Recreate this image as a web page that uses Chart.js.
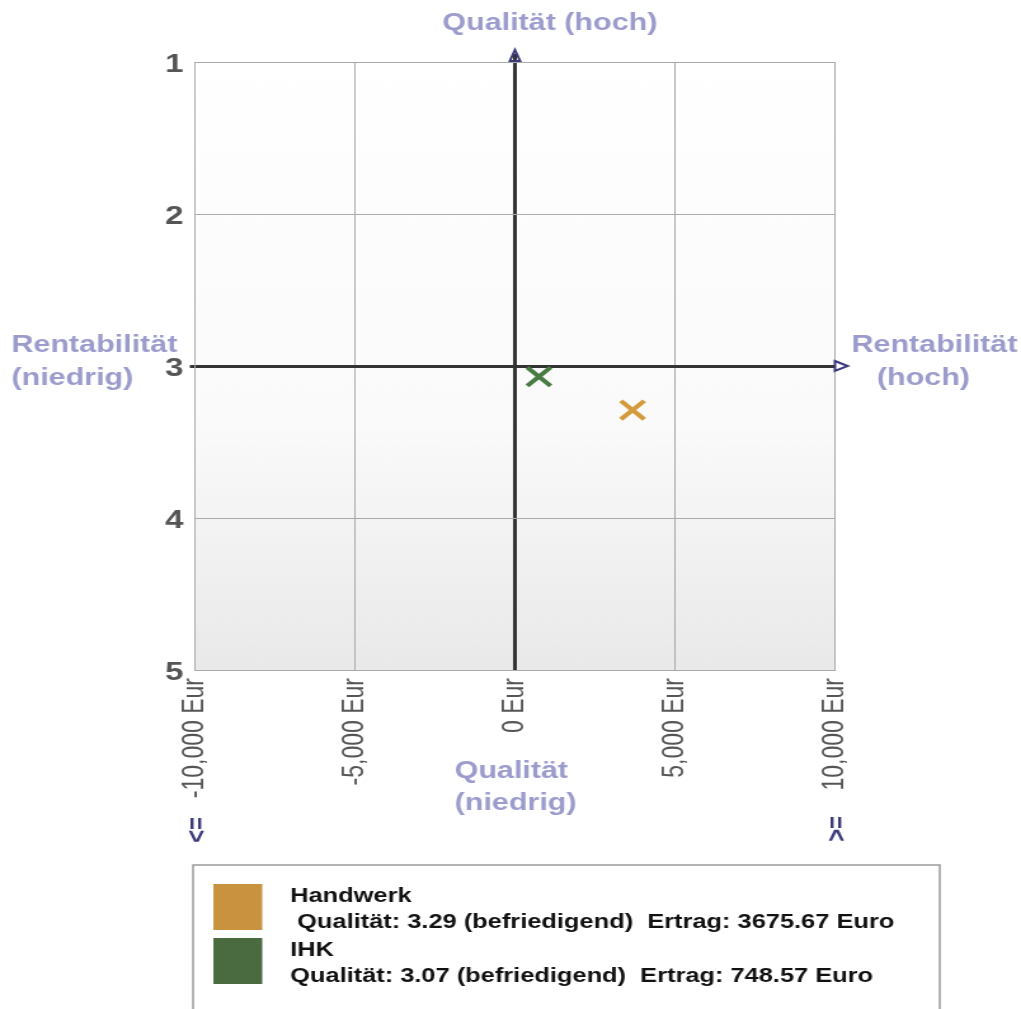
<!DOCTYPE html>
<html><head><meta charset="utf-8">
<script src="https://cdn.jsdelivr.net/npm/chart.js@4.4.1/dist/chart.umd.min.js"></script>
<style>
html,body{margin:0;padding:0;background:#fff;overflow:hidden;}
#wrap{position:absolute;left:0;top:0;width:804px;height:1009px;transform:scaleX(1.2699);transform-origin:0 0;}
canvas{display:block;}
</style></head><body>
<div id="wrap"><canvas id="c" width="804" height="1009" style="width:804px;height:1009px"></canvas></div>
<script>
const categories = ['Handwerk', 'IHK'];
const qualitaet = [3.29, 3.07];
const ertrag = [3675.67, 748.57];
const bewertung = ['befriedigend', 'befriedigend'];
const legendPrefix = [' ', ''];
const seriesColors = ['#d49a3c', '#4b7b45'];
const legendColors = ['#c8923f', '#4a6b40'];
const xTickValues = [-10000, -5000, 0, 5000, 10000];
const xTickLabels = ['-10,000 Eur', '-5,000 Eur', '0 Eur', '5,000 Eur', '10,000 Eur'];
const yTickValues = [1, 2, 3, 4, 5];
const yTickLabels = ['1', '2', '3', '4', '5'];
const xAxisTitle = ['Qualität', '(niedrig)'];
const topTitle = 'Qualität (hoch)';
const leftTitle = ['Rentabilität', '(niedrig)'];
const rightTitle = ['Rentabilität', '(hoch)'];
const xMinMark = '<=';
const xMaxMark = '>=';

const TITLE_COLOR = '#9b9bcc';
const NAVY = '#3a3a7a';
const FONT = '"Liberation Sans", Arial, Helvetica, sans-serif';

const bgPlugin = {
  id: 'bg',
  beforeDraw(chart) {
    const {ctx, chartArea: a} = chart;
    const g = ctx.createLinearGradient(0, a.top, 0, a.bottom);
    g.addColorStop(0, '#ffffff');
    g.addColorStop(0.6, '#fafafa');
    g.addColorStop(1, '#e9e9e9');
    ctx.save();
    ctx.fillStyle = g;
    ctx.fillRect(a.left, a.top, a.right - a.left, a.bottom - a.top);
    ctx.restore();
  }
};

const decoPlugin = {
  id: 'deco',
  afterDraw(chart) {
    const {ctx, chartArea: a, scales} = chart;
    const x0 = scales.x.getPixelForValue(0);
    const y3 = scales.y.getPixelForValue(3);
    const xMin = scales.x.getPixelForValue(-10000);
    const xMax = scales.x.getPixelForValue(10000);
    ctx.save();
    // vertical axis extension + arrow
    ctx.strokeStyle = '#333333';
    ctx.lineWidth = 3;
    ctx.beginPath(); ctx.moveTo(x0, a.top); ctx.lineTo(x0, a.top - 8); ctx.stroke();
    ctx.strokeStyle = NAVY;
    ctx.lineWidth = 2;
    ctx.lineJoin = 'miter';
    ctx.beginPath();
    ctx.moveTo(x0 - 4, a.top - 1); ctx.lineTo(x0, a.top - 12); ctx.lineTo(x0 + 4, a.top - 1); ctx.closePath();
    ctx.stroke();
    // horizontal arrow
    ctx.beginPath();
    ctx.moveTo(a.right, y3 - 5); ctx.lineTo(a.right + 10, y3); ctx.lineTo(a.right, y3 + 5); ctx.closePath();
    ctx.stroke();

    // titles
    ctx.fillStyle = TITLE_COLOR;
    ctx.font = 'bold 24px ' + FONT;
    ctx.textBaseline = 'middle';
    ctx.textAlign = 'center';
    ctx.fillText(topTitle, 433, 23);
    ctx.textAlign = 'left';
    ctx.fillText(leftTitle[0], 9, 345);
    ctx.fillText(leftTitle[1], 9, 378);
    ctx.fillText(rightTitle[0], a.right + 13, 345);
    ctx.fillText(rightTitle[1], a.right + 33, 378);
    ctx.fillText(xAxisTitle[0], 358, 771);
    ctx.fillText(xAxisTitle[1], 358, 803);

    // <= and >= marks
    ctx.fillStyle = NAVY;
    ctx.font = 'bold 22px ' + FONT;
    ctx.textAlign = 'center';
    [[xMin + 2, 830, xMinMark], [xMax + 2, 829, xMaxMark]].forEach(([x, y, t]) => {
      ctx.save();
      ctx.translate(x, y);
      ctx.rotate(-Math.PI / 2);
      ctx.fillText(t, 0, 0);
      ctx.restore();
    });

    // legend box
    ctx.strokeStyle = '#9a9a9a';
    ctx.lineWidth = 1.5;
    ctx.strokeRect(152, 865, 588, 160);
    ctx.font = 'bold 20px ' + FONT;
    ctx.textAlign = 'left';
    categories.forEach((name, i) => {
      const top = 884 + i * 54;
      ctx.fillStyle = legendColors[i];
      ctx.fillRect(168, top, 38.5, 46);
      ctx.fillStyle = '#111111';
      ctx.fillText(name, 228.5, top + 12);
      const line = legendPrefix[i] + 'Qualität: ' + qualitaet[i].toFixed(2) + ' (' + bewertung[i] + ')  Ertrag: ' + ertrag[i].toFixed(2) + ' Euro';
      ctx.fillText(line, 228.5, top + 38);
    });
    ctx.restore();
  }
};

new Chart(document.getElementById('c'), {
  type: 'scatter',
  data: {
    datasets: categories.map((name, i) => ({
      label: name,
      data: [{x: ertrag[i], y: qualitaet[i]}],
      pointStyle: 'crossRot',
      pointRadius: 13,
      pointHoverRadius: 13,
      borderWidth: 4,
      borderColor: seriesColors[i],
      backgroundColor: seriesColors[i]
    }))
  },
  options: {
    responsive: false,
    animation: false,
    events: [],
    layout: {padding: {left: 0, right: 146.5, top: 62, bottom: 189}},
    plugins: {legend: {display: false}, tooltip: {enabled: false}, title: {display: false}},
    scales: {
      x: {
        type: 'linear',
        min: -10000, max: 10000,
        afterBuildTicks(scale) { scale.ticks = xTickValues.map(v => ({value: v})); },
        afterFit(scale) { scale.height = 150; },
        grid: {
          drawTicks: false,
          color: ctx => (ctx.tick && ctx.tick.value === 0) ? '#333333' : '#aaaaaa',
          lineWidth: ctx => (ctx.tick && ctx.tick.value === 0) ? 3 : 1
        },
        border: {display: true, color: '#aaaaaa', width: 1},
        ticks: {
          minRotation: 90, maxRotation: 90, autoSkip: false, padding: 8,
          color: '#555555',
          font: {family: FONT, size: 23},
          callback: v => xTickLabels[xTickValues.indexOf(v)]
        }
      },
      y: {
        type: 'linear',
        reverse: true,
        min: 1, max: 5,
        afterBuildTicks(scale) { scale.ticks = yTickValues.map(v => ({value: v})); },
        afterFit(scale) { scale.width = 153.5; },
        grid: {
          drawTicks: true,
          tickLength: 4,
          tickWidth: ctx => (ctx.tick && ctx.tick.value === 3) ? 3 : 1,
          tickColor: ctx => (ctx.tick && ctx.tick.value === 3) ? '#333333' : 'rgba(0,0,0,0)',
          color: ctx => (ctx.tick && ctx.tick.value === 3) ? '#333333' : '#aaaaaa',
          lineWidth: ctx => (ctx.tick && ctx.tick.value === 3) ? 3 : 1
        },
        border: {display: true, color: '#aaaaaa', width: 1},
        ticks: {
          padding: 5, color: '#555555', labelOffset: 3,
          font: {family: FONT, size: 26, weight: 'bold'},
          callback: v => yTickLabels[yTickValues.indexOf(v)]
        }
      }
    }
  },
  plugins: [bgPlugin, decoPlugin]
});
</script>
</body></html>
